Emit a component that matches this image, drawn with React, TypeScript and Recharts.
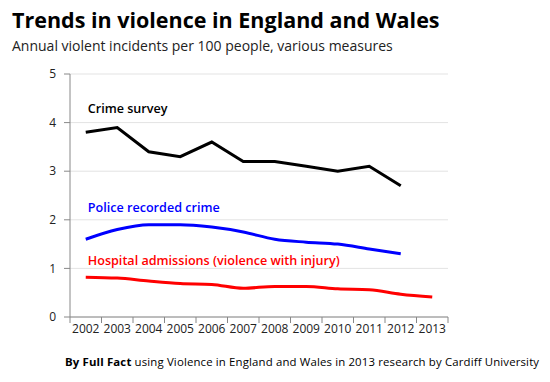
import { LineChart, Line, XAxis, YAxis, CartesianGrid, ReferenceDot } from 'recharts';

const years = [2002, 2003, 2004, 2005, 2006, 2007, 2008, 2009, 2010, 2011, 2012, 2013];
const crimeSurvey = [3.8, 3.9, 3.4, 3.3, 3.6, 3.2, 3.2, 3.1, 3.0, 3.1, 2.7, null];
const policeRecorded = [1.6, 1.8, 1.9, 1.9, 1.85, 1.75, 1.6, 1.54, 1.5, 1.4, 1.3, null];
const hospitalAdmissions = [0.82, 0.8, 0.74, 0.69, 0.67, 0.59, 0.63, 0.63, 0.58, 0.56, 0.47, 0.41];
const yTicks = [0, 1, 2, 3, 4, 5];

const data = years.map((year, i) => ({
  year,
  crime: crimeSurvey[i],
  police: policeRecorded[i],
  hospital: hospitalAdmissions[i],
}));

const FONT = '"Open Sans", "DejaVu Sans", sans-serif';
const W = 550;
const H = 382;
const PLOT_LEFT = 70;
const PLOT_RIGHT = 448;
const HALF_BAND = (PLOT_RIGHT - PLOT_LEFT) / years.length / 2;

function YearTick(props: any) {
  const { x, y, payload, index } = props;
  const last = index === years.length - 1;
  return (
    <g>
      <line x1={x - HALF_BAND} x2={x - HALF_BAND} y1={y} y2={y + 6} stroke="#888" />
      {last && <line x1={x + HALF_BAND} x2={x + HALF_BAND} y1={y} y2={y + 6} stroke="#888" />}
      <text x={x} y={y + 16} textAnchor="middle" fontSize={12} fill="#222" fontFamily={FONT}>
        {payload.value}
      </text>
    </g>
  );
}

function SeriesLabel({ text, color }: { text: string; color: string }) {
  return (props: any) => {
    const { viewBox } = props;
    return (
      <text x={viewBox.x + 2} y={viewBox.y + 5} fill={color} fontSize={12.6} fontWeight={600} fontFamily={FONT}>
        {text}
      </text>
    );
  };
}

export default function App() {
  return (
    <div style={{ position: 'absolute', left: 0, top: 0, width: W, height: H, background: '#fff', fontFamily: FONT }}>
      <div style={{ position: 'absolute', left: 12, top: 5, fontSize: 21.5, fontWeight: 700, color: '#000', whiteSpace: 'nowrap' }}>
        Trends in violence in England and Wales
      </div>
      <div style={{ position: 'absolute', left: 12, top: 36, fontSize: 14, color: '#222', whiteSpace: 'nowrap' }}>
        Annual violent incidents per 100 people, various measures
      </div>
      <LineChart
        width={W}
        height={H}
        data={data}
        margin={{ top: 74, right: W - PLOT_RIGHT, bottom: 35, left: 30 }}
      >
        <CartesianGrid horizontal vertical={false} stroke="#e3e3e3" />
        <XAxis
          dataKey="year"
          type="number"
          domain={[2001.5, 2013.5]}
          ticks={years}
          interval={0}
          height={30}
          axisLine={{ stroke: '#888' }}
          tickLine={false}
          tickSize={0}
          tickMargin={0}
          tick={<YearTick />}
        />
        <YAxis
          domain={[0, 5]}
          ticks={yTicks}
          width={40}
          axisLine={{ stroke: '#888' }}
          tickLine={{ stroke: '#888' }}
          tickSize={6}
          tickMargin={8}
          tick={{ fontSize: 12, fill: '#222', fontFamily: FONT }}
        />
        <Line dataKey="crime" type="linear" stroke="#000" strokeWidth={3} dot={false} isAnimationActive={false} />
        <Line dataKey="police" type="monotone" stroke="#0000ff" strokeWidth={3} dot={false} isAnimationActive={false} />
        <Line dataKey="hospital" type="monotone" stroke="#ff0000" strokeWidth={3} dot={false} isAnimationActive={false} />
        <ReferenceDot x={2002} y={4.3} r={0} fill="none" stroke="none" label={SeriesLabel({ text: 'Crime survey', color: '#000' })} />
        <ReferenceDot x={2002} y={2.26} r={0} fill="none" stroke="none" label={SeriesLabel({ text: 'Police recorded crime', color: '#0000ff' })} />
        <ReferenceDot x={2002} y={1.18} r={0} fill="none" stroke="none" label={SeriesLabel({ text: 'Hospital admissions (violence with injury)', color: '#ff0000' })} />
      </LineChart>
      <div style={{ position: 'absolute', left: 65, top: 354, fontSize: 11.4, color: '#000', whiteSpace: 'nowrap', letterSpacing: 0.15 }}>
        <b>By Full Fact</b> using Violence in England and Wales in 2013 research by Cardiff University
      </div>
    </div>
  );
}
